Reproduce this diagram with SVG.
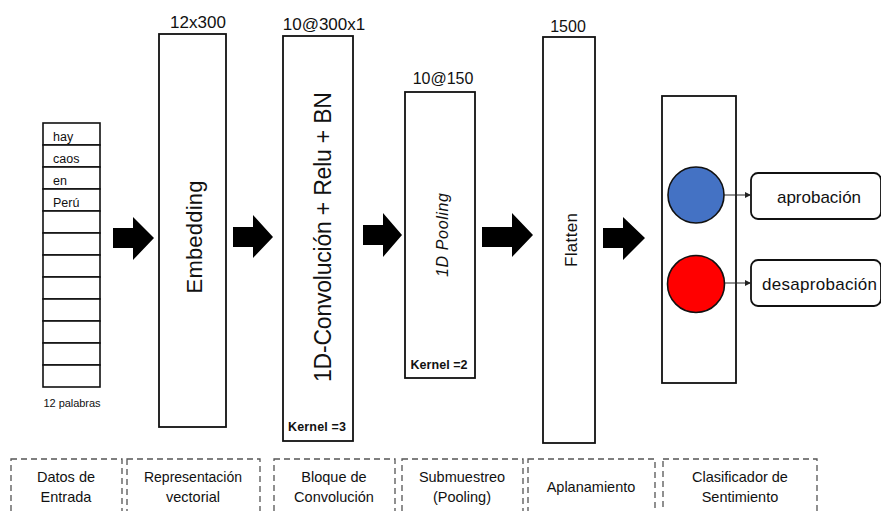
<svg xmlns="http://www.w3.org/2000/svg" width="881" height="511" viewBox="0 0 881 511">
<defs>
<style>
.box{fill:#fff;stroke:#111;stroke-width:1.8}
.cell{fill:#fff;stroke:#111;stroke-width:1.6}
.t{font-family:"Liberation Sans",Arial,sans-serif;fill:#111}
.dash{fill:none;stroke:#555;stroke-width:1.3;stroke-dasharray:6 4}
.blk{fill:#000}
.ln{stroke:#222;stroke-width:1;fill:none}
</style>
<marker id="ah" viewBox="0 0 10 10" refX="10" refY="5" markerWidth="6" markerHeight="6" orient="auto" markerUnits="userSpaceOnUse">
<path d="M0,0 L10,5 L0,10 z" fill="#222"/>
</marker>
</defs>
<rect width="881" height="511" fill="#fff"/>

<g id="input">
<rect class="cell" x="43" y="123" width="57" height="22"/>
<rect class="cell" x="43" y="145" width="57" height="22"/>
<rect class="cell" x="43" y="167" width="57" height="22"/>
<rect class="cell" x="43" y="189" width="57" height="22"/>
<rect class="cell" x="43" y="211" width="57" height="22"/>
<rect class="cell" x="43" y="233" width="57" height="22"/>
<rect class="cell" x="43" y="255" width="57" height="22"/>
<rect class="cell" x="43" y="277" width="57" height="22"/>
<rect class="cell" x="43" y="299" width="57" height="22"/>
<rect class="cell" x="43" y="321" width="57" height="22"/>
<rect class="cell" x="43" y="343" width="57" height="22"/>
<rect class="cell" x="43" y="365" width="57" height="22"/>
<text class="t" x="53" y="141" font-size="12.5">hay</text>
<text class="t" x="53" y="163" font-size="12.5">caos</text>
<text class="t" x="53" y="185" font-size="12.5">en</text>
<text class="t" x="53" y="207" font-size="12.5">Perú</text>
<text class="t" x="72" y="407" font-size="11" text-anchor="middle" textLength="57">12 palabras</text>
</g>

<g id="embedding">
<rect class="box" x="159" y="34" width="67" height="393"/>
<text class="t" x="198" y="28" font-size="17" text-anchor="middle">12x300</text>
<text class="t" font-size="22" text-anchor="middle" textLength="113" transform="translate(202,237) rotate(-90)">Embedding</text>
</g>

<g id="conv">
<rect class="box" x="283" y="36" width="70" height="405"/>
<text class="t" x="324" y="30" font-size="17" text-anchor="middle">10@300x1</text>
<text class="t" font-size="23" text-anchor="middle" textLength="290" transform="translate(331,237) rotate(-90)">1D-Convolución + Relu + BN</text>
<text class="t" x="317" y="431" font-size="12.5" font-weight="bold" text-anchor="middle" textLength="58">Kernel =3</text>
</g>

<g id="pooling">
<rect class="box" x="405" y="92" width="70" height="286"/>
<text class="t" x="443" y="84" font-size="16" text-anchor="middle">10@150</text>
<text class="t" font-size="16" font-style="italic" text-anchor="middle" textLength="84" transform="translate(448,235) rotate(-90)">1D Pooling</text>
<text class="t" x="439" y="369" font-size="12.5" font-weight="bold" text-anchor="middle" textLength="57">Kernel =2</text>
</g>

<g id="flatten">
<rect class="box" x="543" y="37" width="52" height="406"/>
<text class="t" x="568" y="32" font-size="16" text-anchor="middle">1500</text>
<text class="t" font-size="17" text-anchor="middle" textLength="54" transform="translate(577,240) rotate(-90)">Flatten</text>
</g>

<g id="classifier">
<rect class="box" x="662" y="96" width="74" height="287"/>
<circle cx="696" cy="195" r="28" fill="#4472C4" stroke="#111" stroke-width="1.6"/>
<circle cx="696" cy="284" r="28.5" fill="#FF0000" stroke="#111" stroke-width="1.6"/>
</g>

<g id="out-aprobacion">
<rect class="box" x="751" y="173" width="130" height="46" rx="7"/>
<text class="t" x="819" y="203" font-size="17" text-anchor="middle">aprobación</text>
</g>

<g id="out-desaprobacion">
<rect class="box" x="751" y="260" width="130" height="46" rx="7"/>
<text class="t" x="762" y="290" font-size="17" textLength="115">desaprobación</text>
</g>

<g id="connectors">
<polygon class="blk" points="113,228 133,228 133,217 154,238 133,260 133,248 113,248"/>
<polygon class="blk" points="233,227 253,227 253,215 273,237 253,258 253,247 233,247"/>
<polygon class="blk" points="363,225 383,225 383,213 402,235 383,257 383,245 363,245"/>
<polygon class="blk" points="482,227 512,227 512,213 533,235 512,257 512,247 482,247"/>
<polygon class="blk" points="603,228 623,228 623,217 645,238 623,260 623,248 603,248"/>
<line class="ln" x1="724" y1="195" x2="751" y2="195" marker-end="url(#ah)"/>
<line class="ln" x1="725" y1="283" x2="751" y2="283" marker-end="url(#ah)"/>
</g>

<g id="labels">
<rect class="dash" x="11" y="459" width="111" height="70"/>
<text class="t" x="66" y="482" font-size="14.5" text-anchor="middle">Datos de</text>
<text class="t" x="66" y="502" font-size="14.5" text-anchor="middle">Entrada</text>
<rect class="dash" x="127" y="459" width="133" height="70"/>
<text class="t" x="193" y="482" font-size="14" text-anchor="middle">Representación</text>
<text class="t" x="193" y="502" font-size="14.5" text-anchor="middle">vectorial</text>
<rect class="dash" x="274" y="459" width="121" height="70"/>
<text class="t" x="334" y="482" font-size="14.5" text-anchor="middle">Bloque de</text>
<text class="t" x="334" y="502" font-size="14.5" text-anchor="middle">Convolución</text>
<rect class="dash" x="402" y="459" width="121" height="70"/>
<text class="t" x="462" y="482" font-size="14.5" text-anchor="middle">Submuestreo</text>
<text class="t" x="462" y="502" font-size="14.5" text-anchor="middle">(Pooling)</text>
<rect class="dash" x="528" y="459" width="127" height="70"/>
<text class="t" x="591" y="492" font-size="14.5" text-anchor="middle">Aplanamiento</text>
<rect class="dash" x="663" y="459" width="154" height="70"/>
<text class="t" x="740" y="482" font-size="14.5" text-anchor="middle">Clasificador de</text>
<text class="t" x="740" y="502" font-size="14.5" text-anchor="middle">Sentimiento</text>
</g>
</svg>
